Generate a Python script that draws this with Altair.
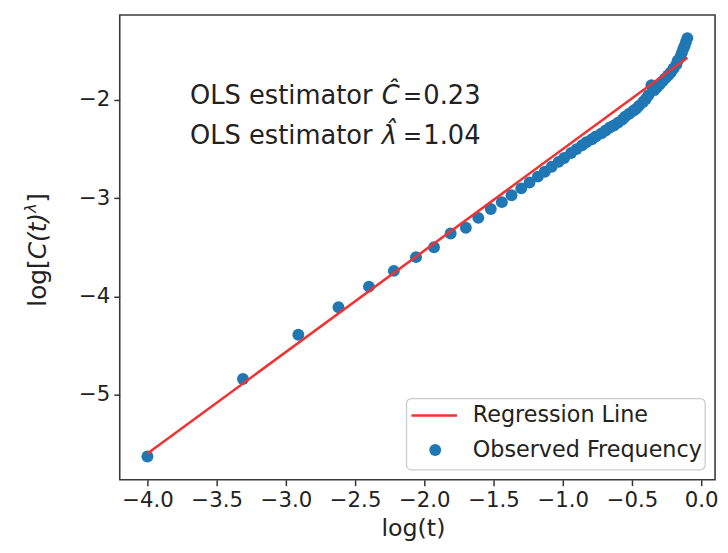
import altair as alt
import pandas as pd

# Observed points (log(t), log[C(t)^lambda])
obs_x = [-4.00, -3.31, -2.91, -2.62, -2.40, -2.22, -2.06, -1.93, -1.81, -1.70,
         -1.61, -1.52, -1.44, -1.37, -1.30, -1.24, -1.18, -1.13, -1.08, -1.03,
         -0.99, -0.94, -0.90, -0.86, -0.83, -0.79, -0.76, -0.72, -0.69, -0.66,
         -0.63, -0.60, -0.57, -0.55, -0.52, -0.49, -0.47, -0.45, -0.42, -0.40,
         -0.38, -0.36, -0.34, -0.32, -0.30, -0.28, -0.26, -0.24, -0.22, -0.20,
         -0.18, -0.17, -0.15, -0.14, -0.13, -0.12, -0.11, -0.10]
obs_y = [-5.63, -4.84, -4.39, -4.11, -3.90, -3.74, -3.60, -3.50, -3.36, -3.30,
         -3.20, -3.11, -3.04, -2.97, -2.90, -2.84, -2.78, -2.73, -2.68, -2.63,
         -2.59, -2.54, -2.50, -2.46, -2.43, -2.40, -2.37, -2.34, -2.31, -2.28,
         -2.26, -2.23, -2.20, -2.17, -2.14, -2.11, -2.09, -2.06, -2.02, -1.99,
         -1.95, -1.85, -1.90, -1.87, -1.84, -1.81, -1.78, -1.75, -1.72, -1.68,
         -1.64, -1.60, -1.56, -1.52, -1.48, -1.45, -1.41, -1.37]

# Regression line endpoints
line_x = [-4.00, -0.10]
line_y = [-5.60, -1.57]

x_ticks = [-4.0, -3.5, -3.0, -2.5, -2.0, -1.5, -1.0, -0.5, 0.0]
y_ticks = [-5, -4, -3, -2]

legend_labels = ["Regression Line", "Observed Frequency"]
blue = "#1f77b4"
red = "#f03232"
font = "DejaVu Sans"

obs = pd.DataFrame({"x": obs_x, "y": obs_y})
reg = pd.DataFrame({"x": line_x, "y": line_y})

xs = alt.Scale(domain=[-4.2, 0.1], nice=False, zero=False)
ys = alt.Scale(domain=[-5.866, -1.134], nice=False, zero=False)

xaxis = alt.Axis(values=x_ticks, format=".1f", title=None)
yaxis = alt.Axis(values=y_ticks, format="d", title=None)

points = alt.Chart(obs).mark_point(filled=True, size=145, color=blue, opacity=1).encode(
    x=alt.X("x:Q", scale=xs, axis=xaxis),
    y=alt.Y("y:Q", scale=ys, axis=yaxis),
)
line = alt.Chart(reg).mark_line(color=red, strokeWidth=2.6).encode(
    x=alt.X("x:Q", scale=xs),
    y=alt.Y("y:Q", scale=ys),
)

one = pd.DataFrame({"a": [0]})
base = alt.Chart(one)


def txt(s, x, y, size=26, style="normal", angle=0, baseline="alphabetic", align="left"):
    kw = dict(text=s, fontSize=size, font=font, fontStyle=style, align=align,
              baseline=baseline, color="#222")
    if angle:
        kw["angle"] = angle
    return base.mark_text(**kw).encode(x=alt.value(x), y=alt.value(y))


# annotations
ann = [
    txt("OLS estimator", 71, 90),
    txt("Ĉ", 265, 90, style="italic"),
    txt("=", 296, 90, size=23, align="center"),
    txt("0.23", 307, 90),
    txt("OLS estimator", 71, 131),
    txt("λ\u0302", 265, 131, style="italic"),
    txt("=", 296, 131, size=23, align="center"),
    txt("1.04", 307, 131),
]

# y-axis title pieces (rotated)
ytitle = [
    txt("log[", -75, 295, size=25, angle=270),
    txt("C(t)", -75, 247, size=25, style="italic", angle=270),
    txt("λ", -85, 200, size=16, style="italic", angle=270),
    txt("]", -75, 190, size=25, angle=270),
]

# x-axis title
xtitle = txt("log(t)", 297, 527, size=24, align="center")

# legend
leg_box = base.mark_rect(fill="white", fillOpacity=0.8, stroke="#cccccc", strokeWidth=1.3,
                         cornerRadius=5).encode(
    x=alt.value(290), x2=alt.value(592), y=alt.value(388), y2=alt.value(460))
leg_line = base.mark_rule(color=red, strokeWidth=2.6).encode(
    x=alt.value(295), x2=alt.value(341), y=alt.value(405))
leg_dot = base.mark_point(filled=True, size=145, color=blue, opacity=1).encode(
    x=alt.value(319), y=alt.value(440))
leg_t1 = txt(legend_labels[0], 357, 405, size=22.5, baseline="middle")
leg_t2 = txt(legend_labels[1], 357, 440, size=22.5, baseline="middle")

chart = alt.layer(points, line, *ann, *ytitle, xtitle, leg_box, leg_line, leg_dot, leg_t1, leg_t2).properties(
    width=602, height=470,
    autosize=alt.AutoSizeParams(type="none"),
    padding={"left": 113, "top": 4, "right": 5, "bottom": 62},
).configure_view(
    stroke="#3a3a3a", strokeWidth=1.6
).configure_axis(
    domain=False, grid=False, ticks=True, tickColor="#333333", tickWidth=1.5, tickSize=6,
    labelFontSize=21.5, labelFont=font, titleFont=font, labelColor="#222", labelPadding=4,
)

chart.save("out.html", embed_options={"renderer": "svg", "actions": False})
